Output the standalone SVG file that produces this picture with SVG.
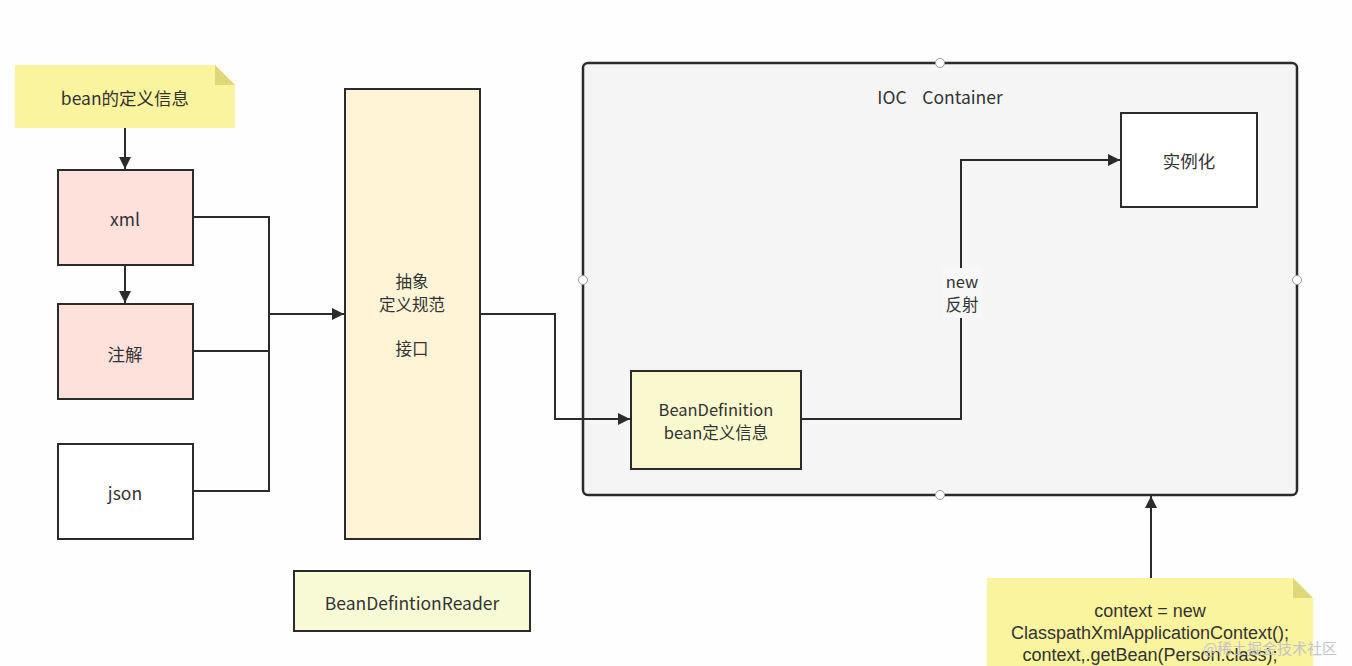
<svg xmlns="http://www.w3.org/2000/svg" width="1352" height="666" viewBox="0 0 1352 666">
<defs>
<style>
text{font-family:"Noto Sans CJK SC","Noto Sans",sans-serif;font-size:17.5px;fill:#333;text-anchor:middle;dominant-baseline:central}
.code{font-family:"Liberation Sans",Arial,sans-serif;font-size:18px}
.ml{font-size:16.5px}
.box{stroke:#2b2b2b;stroke-width:2}
.pink{fill:#FFE1DC}
.white{fill:#FFFFFF}
.cream{fill:#FFF5D6}
.lime{fill:#F8FAD6}
.bd{fill:#FAF8CE}
.note{fill:#FBF49E}
.fold{fill:#E0D77A}
.conn{fill:none;stroke:#2b2b2b;stroke-width:2}
.handle{fill:#fff;stroke:#999;stroke-width:1}
</style>
<marker id="arrB" viewBox="0 0 10 10" refX="10" refY="5" markerWidth="12" markerHeight="12" markerUnits="userSpaceOnUse" orient="auto">
<path d="M0,0 L10,5 L0,10 z" fill="#2b2b2b"/>
</marker>
</defs>
<rect width="1352" height="666" fill="#FEFEFE"/>

<g id="ioc-container">
<rect x="583" y="63" width="714" height="432" rx="5" fill="#F5F5F5" stroke="#2b2b2b" stroke-width="2.5"/>
<text x="940" y="96" xml:space="preserve">IOC    Container</text>
<circle class="handle" cx="940" cy="63" r="4.5"/>
<circle class="handle" cx="583" cy="280" r="4.5"/>
<circle class="handle" cx="1297" cy="280" r="4.5"/>
<circle class="handle" cx="940" cy="495" r="4.5"/>
</g>

<g id="connectors">
<path class="conn" d="M125,128 V169" marker-end="url(#arrB)"/>
<path class="conn" d="M125,265 V303" marker-end="url(#arrB)"/>
<path class="conn" d="M193,217 H269 V351 H193"/>
<path class="conn" d="M193,491 H269 V314"/>
<path class="conn" d="M269,314 H344" marker-end="url(#arrB)"/>
<path class="conn" d="M480,314 H555 V419 H630" marker-end="url(#arrB)"/>
<path class="conn" d="M801,419 H961 V160 H1120" marker-end="url(#arrB)"/>
<path class="conn" d="M1151,578 V496" marker-end="url(#arrB)"/>
</g>

<g id="label-new">
<rect x="942" y="268" width="40" height="50" fill="#F7F7F7"/>
<text class="ml" x="962" y="281">new<tspan x="962" dy="23">反射</tspan></text>
</g>

<g id="note-bean">
<path class="note" d="M15,65 H215 L235,85 V128 H15 Z"/>
<path class="fold" d="M215,65 L235,85 H215 Z"/>
<text x="125" y="97">bean的定义信息</text>
</g>

<g id="xml">
<rect class="box pink" x="58" y="170" width="135" height="95"/>
<text x="125" y="218">xml</text>
</g>

<g id="annotation">
<rect class="box pink" x="58" y="304" width="135" height="95"/>
<text x="125" y="353">注解</text>
</g>

<g id="json">
<rect class="box white" x="58" y="444" width="135" height="95"/>
<text x="125" y="492">json</text>
</g>

<g id="abstract">
<rect class="box cream" x="345" y="89" width="135" height="450"/>
<text class="ml" x="412" y="281">抽象<tspan x="412" dy="23">定义规范</tspan><tspan x="412" dy="44">接口</tspan></text>
</g>

<g id="reader">
<rect class="box lime" x="294" y="571" width="236" height="60"/>
<text x="412" y="602">BeanDefintionReader</text>
</g>

<g id="bean-definition">
<rect class="box bd" x="631" y="371" width="170" height="98"/>
<text class="ml" x="716" y="409">BeanDefinition<tspan x="716" dy="23">bean定义信息</tspan></text>
</g>

<g id="instantiate">
<rect class="box white" x="1121" y="113" width="136" height="94"/>
<text x="1189" y="160">实例化</text>
</g>

<g id="note-context">
<path class="note" d="M987,578 H1293 L1313,598 V666 H987 Z"/>
<path class="fold" d="M1293,578 L1313,598 H1293 Z"/>
<text class="code" x="1150" y="611">context = new<tspan x="1150" dy="22">ClasspathXmlApplicationContext();</tspan><tspan x="1150" dy="21.5">context,.getBean(Person.class);</tspan></text>
</g>

<text x="1270" y="647" style="fill:#c4c4c4;font-size:15px">@稀土掘金技术社区</text>
</svg>
